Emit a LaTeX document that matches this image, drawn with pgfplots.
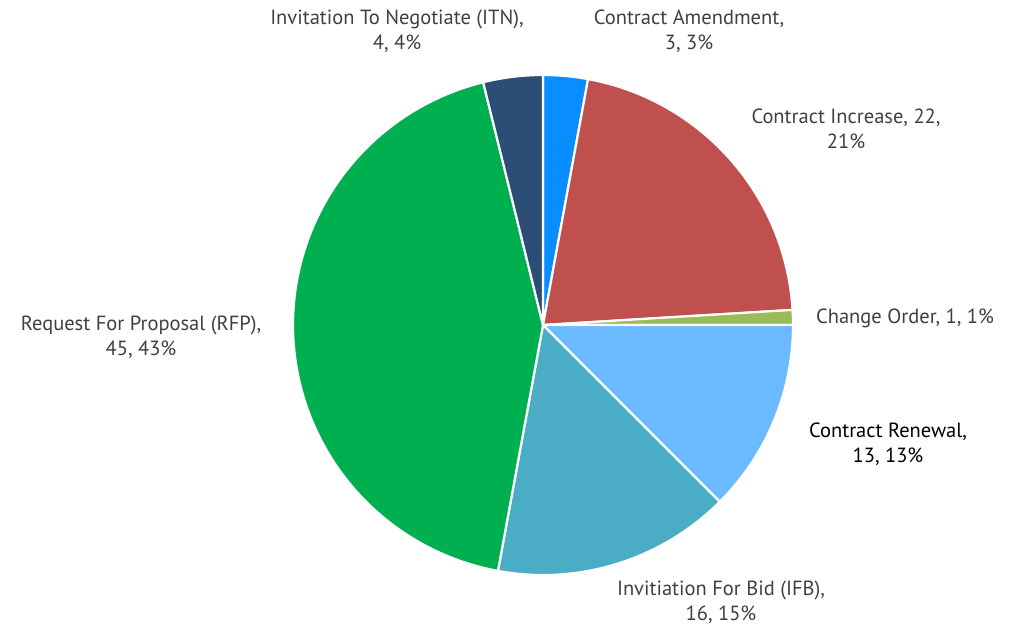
\documentclass[border=0pt]{standalone}
\usepackage{pgfplots}
\pgfplotsset{compat=1.18}
\usepackage{pgfplotstable}
\usepackage{fontspec}
\setmainfont{PT Sans}
\definecolor{cAmend}{HTML}{0A8EFF}
\definecolor{cIncr}{HTML}{C0504D}
\definecolor{cChange}{HTML}{9BBB59}
\definecolor{cRenew}{HTML}{6BB9FF}
\definecolor{cIFB}{HTML}{4BACC6}
\definecolor{cRFP}{HTML}{00B050}
\definecolor{cITN}{HTML}{2C4D75}
\definecolor{txt}{HTML}{404040}
\pgfplotstableread{
name value
Amendment 3
Increase 22
Change 1
Renewal 13
IFB 16
RFP 45
ITN 4
}\piedata
\begin{document}
\begin{tikzpicture}
\begin{axis}[
  width=1017bp, height=625bp, scale only axis,
  xmin=0, xmax=1017, ymin=0, ymax=625, y dir=reverse,
  hide axis, clip=false,
]
\path (axis cs:0,0) rectangle (axis cs:1017,625);
\pgfplotstablegetrowsof{\piedata}
\pgfmathtruncatemacro{\nrows}{\pgfplotsretval-1}
\def\total{104}
\def\cx{543}\def\cy{325}\def\R{250}
\def\colorlist{{"cAmend","cIncr","cChange","cRenew","cIFB","cRFP","cITN"}}
\pgfmathsetmacro{\cum}{0}
\pgfplotsforeachungrouped \i in {0,...,\nrows}{%
  \pgfplotstablegetelem{\i}{value}\of{\piedata}%
  \let\v=\pgfplotsretval
  \pgfmathsetmacro{\aS}{90-(\cum/\total)*360}%
  \pgfmathsetmacro{\aE}{90-((\cum+\v)/\total)*360}%
  \pgfmathsetmacro{\cum}{\cum+\v}%
  \pgfmathparse{\colorlist[\i]}\let\cc=\pgfmathresult
  \edef\doplot{\noexpand\addplot[fill=\cc, draw=white, line width=2.2bp, line join=round, domain=\aE:\aS, samples=90, variable=\noexpand\t]
    ({\cx+\R*cos(\noexpand\t)},{\cy-\R*sin(\noexpand\t)}) -- (axis cs:\cx,\cy) -- cycle;}%
  \doplot
}
\tikzset{lbl/.style={font=\fontsize{20.5bp}{24.5bp}\selectfont, text=txt, align=center, inner sep=0pt}}
\node[lbl] at (axis cs:397,31) {Invitation To Negotiate (ITN),\\4, 4\%};
\node[lbl] at (axis cs:689,31) {Contract Amendment,\\3, 3\%};
\node[lbl] at (axis cs:846,129) {Contract Increase, 22,\\21\%};
\node[lbl] at (axis cs:905,318) {Change Order, 1, 1\%};
\node[lbl, text=black] at (axis cs:888,444) {Contract Renewal,\\13, 13\%};
\node[lbl] at (axis cs:721,602) {Invitiation For Bid (IFB),\\16, 15\%};
\node[lbl] at (axis cs:141,337) {Request For Proposal (RFP),\\45, 43\%};
\end{axis}
\end{tikzpicture}
\end{document}
